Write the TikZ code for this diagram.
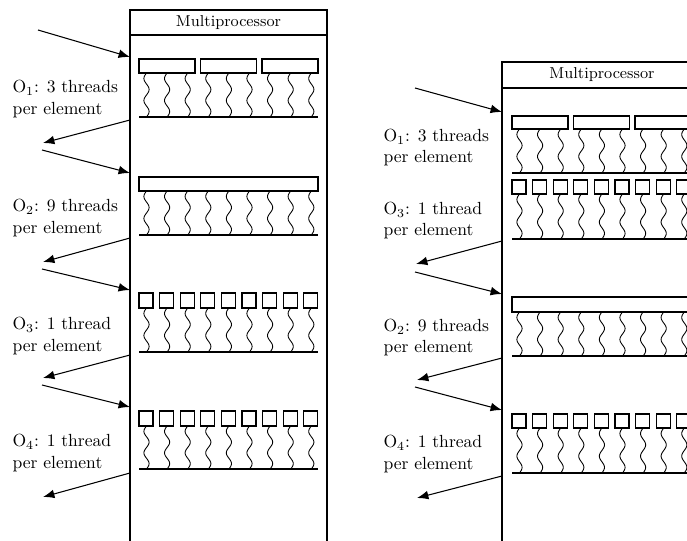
\documentclass[tikz,border=0pt]{standalone}
\usepackage{tikz}
\usetikzlibrary{arrows.meta}

\begin{document}
\begin{tikzpicture}[x=0.02cm,y=-0.02cm,line width=0.6pt,
        thread/.style={line width=0.5pt,smooth,samples=33},
        arr/.style={-{Latex[length=6.5pt,width=5pt]}},
        lbl/.style={align=left,anchor=west,inner sep=0pt}]
        \useasboundingbox (0,0) rectangle (687,541);
        \clip (0,0) rectangle (687,541);

        % left multiprocessor
        \draw (130,10) rectangle (327,570);
        \draw (130,35)--(327,35);
        \node (mpL) at (228.5,22.5) {\small Multiprocessor};
        % O1: 3 bars
        \foreach \i in {0,1,2} \draw (139+61.5*\i,59) rectangle +(56,14);
        \foreach \i in {0,...,8} \draw[thread] plot[domain=0:44] ({146.5+20.6*\i-2.6*sin(16.36*\x)},{73+\x});
        \draw (139,117)--(318,117);
        % O2: one bar
        \draw (139,177) rectangle (318,191);
        \foreach \i in {0,...,8} \draw[thread] plot[domain=0:44] ({146.5+20.6*\i-2.6*sin(16.36*\x)},{191+\x});
        \draw (139,235)--(318,235);
        % O3: 9 squares
        \foreach \i in {0,...,8} \draw (139+20.6*\i,293) rectangle +(14,15);
        \foreach \i in {0,...,8} \draw[thread] plot[domain=0:44] ({146.5+20.6*\i-2.6*sin(16.36*\x)},{308+\x});
        \draw (139,352)--(318,352);
        % O4: 9 squares
        \foreach \i in {0,...,8} \draw (139+20.6*\i,411) rectangle +(14,15);
        \foreach \i in {0,...,8} \draw[thread] plot[domain=0:43] ({146.5+20.6*\i-2.6*sin(16.74*\x)},{426+\x});
        \draw (139,469)--(318,469);

        \node[lbl] (oneL) at (12,99) {O$_1$: 3 threads\\per element};
        \node[lbl] (twoL) at (12,218) {O$_2$: 9 threads\\per element};
        \node[lbl] (threeL) at (12,336) {O$_3$: 1 thread\\per element};
        \node[lbl] (fourL) at (12,453) {O$_4$: 1 thread\\per element};

        \coordinate (inL1) at (38,30);   \coordinate (enL1) at (130,57);
        \coordinate (exL1) at (130,120); \coordinate (ouL1) at (43,143);
        \coordinate (inL2) at (42,150);  \coordinate (enL2) at (130,173);
        \coordinate (exL2) at (130,238); \coordinate (ouL2) at (43,262);
        \coordinate (inL3) at (42,269);  \coordinate (enL3) at (130,290);
        \coordinate (exL3) at (130,355); \coordinate (ouL3) at (43,378);
        \coordinate (inL4) at (42,385);  \coordinate (enL4) at (130,407);
        \coordinate (exL4) at (130,473); \coordinate (ouL4) at (43,497);
        \draw[arr] (inL1)--(enL1);
        \draw[arr] (exL1)--(ouL1);
        \draw[arr] (inL2)--(enL2);
        \draw[arr] (exL2)--(ouL2);
        \draw[arr] (inL3)--(enL3);
        \draw[arr] (exL3)--(ouL3);
        \draw[arr] (inL4)--(enL4);
        \draw[arr] (exL4)--(ouL4);

        % right multiprocessor
        \draw (502,62) rectangle (702,570);
        \draw (502,88)--(702,88);
        \node (mpR) at (602,75) {\small Multiprocessor};
        % O1: 3 bars
        \foreach \i in {0,1,2} \draw (512+61.5*\i,116) rectangle +(56,13);
        \foreach \i in {0,...,8} \draw[thread] plot[domain=0:44] ({519.5+20.6*\i-2.6*sin(16.36*\x)},{129+\x});
        \draw (512,173)--(691,173);
        % O3: 9 squares
        \foreach \i in {0,...,8} \draw (512+20.6*\i,180) rectangle +(14,14);
        \foreach \i in {0,...,8} \draw[thread] plot[domain=0:45] ({519.5+20.6*\i-2.6*sin(16*\x)},{194+\x});
        \draw (512,239)--(691,239);
        % O2: one bar
        \draw (512,297) rectangle (691,312);
        \foreach \i in {0,...,8} \draw[thread] plot[domain=0:44] ({519.5+20.6*\i-2.6*sin(16.36*\x)},{312+\x});
        \draw (512,356)--(691,356);
        % O4: 9 squares
        \foreach \i in {0,...,8} \draw (512+20.6*\i,414) rectangle +(14,14);
        \foreach \i in {0,...,8} \draw[thread] plot[domain=0:45] ({519.5+20.6*\i-2.6*sin(16*\x)},{428+\x});
        \draw (512,473)--(691,473);

        \node[lbl] (oneR) at (383,147.5) {O$_1$: 3 threads\\per element};
        \node[lbl] (threeR) at (383,220.5) {O$_3$: 1 thread\\per element};
        \node[lbl] (twoR) at (383,337.5) {O$_2$: 9 threads\\per element};
        \node[lbl] (fourR) at (383,454) {O$_4$: 1 thread\\per element};

        \coordinate (inR1) at (415,88);  \coordinate (enR1) at (502,112);
        \coordinate (exR2) at (502,241); \coordinate (ouR2) at (416,264);
        \coordinate (inR3) at (415,272); \coordinate (enR3) at (502,294);
        \coordinate (exR3) at (502,358); \coordinate (ouR3) at (417,380);
        \coordinate (inR4) at (415,387); \coordinate (enR4) at (502,410);
        \coordinate (exR4) at (502,476); \coordinate (ouR4) at (417,498);
        \draw[arr] (inR1)--(enR1);
        \draw[arr] (exR2)--(ouR2);
        \draw[arr] (inR3)--(enR3);
        \draw[arr] (exR3)--(ouR3);
        \draw[arr] (inR4)--(enR4);
        \draw[arr] (exR4)--(ouR4);
\end{tikzpicture}
\end{document}
